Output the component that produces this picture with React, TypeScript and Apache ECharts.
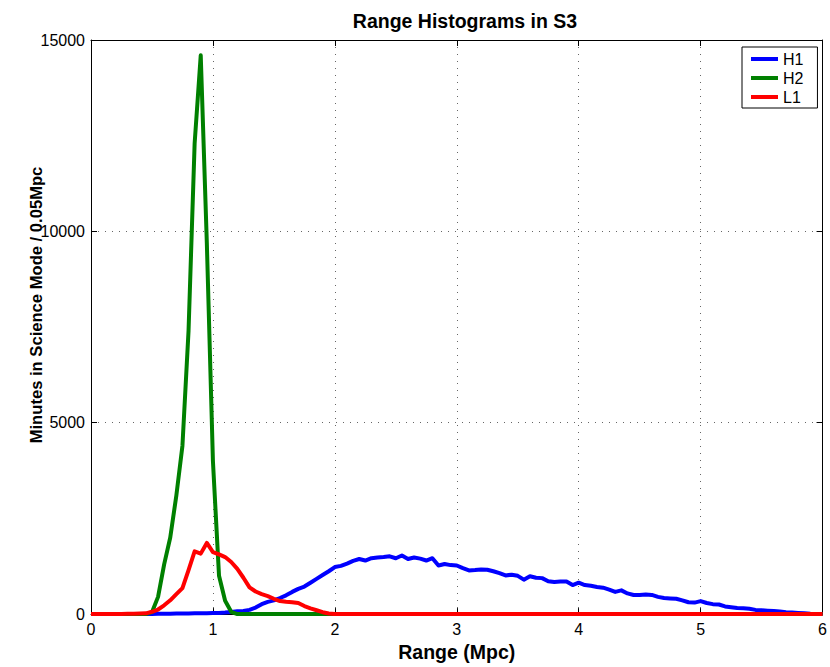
import React, { useEffect, useRef } from "react";
import * as echarts from "echarts";

const TITLE = "Range Histograms in S3";
const X_NAME = "Range (Mpc)";
const Y_NAME = "Minutes in Science Mode / 0.05Mpc";
const SERIES_NAMES = ["H1", "H2", "L1"];
const BIN_WIDTH = 0.05;

const H1 = [
  0, 0, 0, 0, 0, 0, 0, 0, 0, 2,
  5, 8, 10, 12, 14, 16, 18, 20, 22, 25,
  28, 30, 40, 55, 75, 80, 110, 170, 260, 320,
  360, 420, 490, 580, 660, 720, 820, 920, 1020, 1120,
  1230, 1260, 1320, 1390, 1440, 1400, 1460, 1480, 1490, 1510,
  1460, 1530, 1440, 1480, 1450, 1400, 1460, 1270, 1310, 1280,
  1270, 1200, 1140, 1150, 1165, 1160, 1120, 1070, 1010, 1030,
  1000, 900, 990, 950, 940, 860, 840, 850, 850, 760,
  820, 760, 740, 710, 690, 640, 580, 620, 540, 500,
  500, 510, 500, 450, 420, 410, 400, 360, 310, 300,
  340, 290, 260, 250, 200, 180, 160, 150, 140, 110,
  100, 90, 80, 70, 50, 40, 30, 20, 10, 5,
  0,
];

const H2 = [
  0, 0, 0, 0, 0, 0, 0, 0, 0, 0,
  50, 450, 1300, 2000, 3100, 4400, 7400, 12300, 14600, 9700,
  4000, 1000, 350, 60, 0, 0, 0, 0, 0, 0,
  0, 0, 0, 0, 0, 0, 0, 0, 0, 0,
  0, 0, 0, 0, 0, 0, 0, 0, 0, 0,
  0, 0, 0, 0, 0, 0, 0, 0, 0, 0,
  0, 0, 0, 0, 0, 0, 0, 0, 0, 0,
  0, 0, 0, 0, 0, 0, 0, 0, 0, 0,
  0, 0, 0, 0, 0, 0, 0, 0, 0, 0,
  0, 0, 0, 0, 0, 0, 0, 0, 0, 0,
  0, 0, 0, 0, 0, 0, 0, 0, 0, 0,
  0, 0, 0, 0, 0, 0, 0, 0, 0, 0,
  0,
];

const L1 = [
  0, 0, 0, 0, 0, 5, 8, 10, 15, 20,
  60, 120, 230, 360, 520, 680, 1150, 1640, 1580, 1860,
  1620, 1560, 1490, 1360, 1180, 950, 700, 590, 520, 470,
  400, 340, 320, 310, 290, 210, 150, 100, 50, 15,
  0, 0, 0, 0, 0, 0, 0, 0, 0, 0,
  0, 0, 0, 0, 0, 0, 0, 0, 0, 0,
  0, 0, 0, 0, 0, 0, 0, 0, 0, 0,
  0, 0, 0, 0, 0, 0, 0, 0, 0, 0,
  0, 0, 0, 0, 0, 0, 0, 0, 0, 0,
  0, 0, 0, 0, 0, 0, 0, 0, 0, 0,
  0, 0, 0, 0, 0, 0, 0, 0, 0, 0,
  0, 0, 0, 0, 0, 0, 0, 0, 0, 0,
  0,
];

const COLORS = ["#0000ff", "#008000", "#ff0000"];
const FONT = "'Liberation Sans', Arial, Helvetica, sans-serif";

function toPairs(values: number[]) {
  return values.map((v, i) => [Math.round(i * BIN_WIDTH * 100) / 100, v]);
}

export default function App() {
  const ref = useRef<HTMLDivElement>(null);

  useEffect(() => {
    if (!ref.current) return;
    const chart = echarts.init(ref.current, null, { renderer: "svg" });
    const gridLine = { show: true, lineStyle: { color: "#666", type: [1, 6] as any, width: 1 } };
    const axisLine = { show: true, onZero: false, lineStyle: { color: "#000", width: 1 } };
    const ticksIn = { show: true, inside: true, length: 6, lineStyle: { color: "#000" } };
    const allSeries = [H1, H2, L1];
    chart.setOption({
      animation: false,
      backgroundColor: "#fff",
      textStyle: { fontFamily: FONT },
      title: {
        text: TITLE,
        left: 460,
        top: 6,
        textAlign: "center",
        textStyle: { fontFamily: FONT, fontSize: 19.5, fontWeight: "bold", color: "#000" },
      },
      legend: {
        orient: "vertical",
        left: 742,
        top: 47,
        data: SERIES_NAMES,
        icon: "rect",
        itemWidth: 27,
        itemHeight: 4,
        itemGap: 3,
        itemTextGap: 9,
        padding: [4, 14, 3, 9],
        borderColor: "#000",
        borderWidth: 1,
        backgroundColor: "#fff",
        textStyle: { fontFamily: FONT, fontSize: 16, color: "#000" },
      },
      graphic: [
        {
          type: "text",
          x: 36,
          y: 305,
          rotation: Math.PI / 2,
          style: {
            text: Y_NAME,
            fontFamily: FONT,
            fontSize: 16.6,
            fontWeight: "bold",
            fill: "#000",
            align: "center",
            verticalAlign: "middle",
          },
        },
      ],
      grid: { left: 91, right: 5, top: 40, bottom: 48, containLabel: false },
      xAxis: [
        {
          type: "value",
          min: 0,
          max: 6,
          interval: 1,
          position: "bottom",
          name: X_NAME,
          nameLocation: "middle",
          nameGap: 26,
          nameTextStyle: { fontFamily: FONT, fontSize: 19.5, fontWeight: "bold", color: "#000" },
          axisLine,
          axisTick: ticksIn,
          axisLabel: { color: "#000", fontSize: 16, margin: 7, fontFamily: FONT },
          splitLine: gridLine,
        },
        {
          type: "value",
          min: 0,
          max: 6,
          interval: 1,
          position: "top",
          axisLine,
          axisTick: ticksIn,
          axisLabel: { show: false },
          splitLine: { show: false },
        },
      ],
      yAxis: [
        {
          type: "value",
          min: 0,
          max: 15000,
          interval: 5000,
          position: "left",
          axisLine,
          axisTick: ticksIn,
          axisLabel: {
            color: "#000",
            fontSize: 16,
            margin: 6,
            fontFamily: FONT,
            formatter: (v: number) => String(v),
          },
          splitLine: gridLine,
        },
        {
          type: "value",
          min: 0,
          max: 15000,
          interval: 5000,
          position: "right",
          axisLine,
          axisTick: ticksIn,
          axisLabel: { show: false },
          splitLine: { show: false },
        },
      ],
      series: allSeries.map((vals, k) => ({
        name: SERIES_NAMES[k],
        type: "line",
        data: toPairs(vals),
        showSymbol: false,
        symbol: "none",
        color: COLORS[k],
        lineStyle: { color: COLORS[k], width: 4, join: "round" },
        xAxisIndex: 0,
        yAxisIndex: 0,
      })),
    });
    return () => chart.dispose();
  }, []);

  return (
    <div
      ref={ref}
      style={{ position: "fixed", left: 0, top: 0, width: 830, height: 667, background: "#fff" }}
    />
  );
}
